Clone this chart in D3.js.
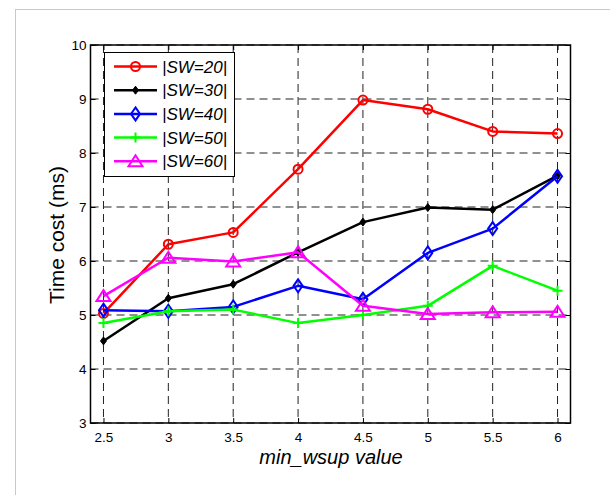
<!DOCTYPE html>
<html>
<head>
<meta charset="utf-8">
<script src="https://cdn.jsdelivr.net/npm/d3@7"></script>
<style>
  body { margin: 0; background: #fff; }
  svg { display: block; font-family: "Liberation Sans", Arial, sans-serif; }
</style>
</head>
<body>
<div id="chart"></div>
<script>
// 数据
let xValues = [2.5, 3, 3.5, 4, 4.5, 5, 5.5, 6];
let sw20 = [5.03, 6.31, 6.53, 7.70, 8.98, 8.81, 8.40, 8.36];
let sw30 = [4.52, 5.31, 5.57, 6.16, 6.72, 6.99, 6.95, 7.58];
let sw40 = [5.09, 5.07, 5.15, 5.54, 5.29, 6.15, 6.60, 7.57];
let sw50 = [4.85, 5.07, 5.10, 4.85, 5.00, 5.17, 5.91, 5.45];
let sw60 = [5.35, 6.06, 5.99, 6.16, 5.17, 5.02, 5.05, 5.06];
let yTicks = [3, 4, 5, 6, 7, 8, 9, 10];
let xTicks = [2.5, 3, 3.5, 4, 4.5, 5, 5.5, 6];

let series = [
    { name: "|SW=20|", values: sw20, color: "#ff0000", marker: "circle" },
    { name: "|SW=30|", values: sw30, color: "#000000", marker: "dot" },
    { name: "|SW=40|", values: sw40, color: "#0000ff", marker: "diamond" },
    { name: "|SW=50|", values: sw50, color: "#00ff00", marker: "plus" },
    { name: "|SW=60|", values: sw60, color: "#ff00ff", marker: "triangle" }
];

let width = 610, height = 495;
let plot = { left: 90.5, right: 570.5, top: 45, bottom: 423 };

let svg = d3.select("#chart").append("svg")
    .attr("width", width)
    .attr("height", height);

// 外框
svg.append("rect")
    .attr("x", 15.5).attr("y", 9.5)
    .attr("width", 620).attr("height", 520)
    .attr("fill", "#fff")
    .attr("stroke", "#c8c8c8");

let x = d3.scaleLinear().domain([2.4, 6.1]).range([plot.left, plot.right]);
let y = d3.scaleLinear().domain([3, 10]).range([plot.bottom, plot.top]);

// 网格
let grid = svg.append("g");
grid.selectAll(".vg").data(xTicks).enter().append("line")
    .attr("x1", d => x(d)).attr("x2", d => x(d))
    .attr("y1", plot.top).attr("y2", plot.bottom)
    .attr("stroke", "#222").attr("stroke-width", 1)
    .attr("stroke-dasharray", "8,5");
grid.selectAll(".hg").data(yTicks).enter().append("line")
    .attr("y1", d => y(d)).attr("y2", d => y(d))
    .attr("x1", plot.left).attr("x2", plot.right)
    .attr("stroke", "#222").attr("stroke-width", 1)
    .attr("stroke-dasharray", "8,5");

// 坐标轴
let tickLen = 5;
let fmt = d => String(d);
let xAxisB = d3.axisBottom(x).tickValues(xTicks).tickSizeInner(-tickLen).tickSizeOuter(0).tickPadding(9).tickFormat(fmt);
let xAxisT = d3.axisTop(x).tickValues(xTicks).tickSizeInner(-tickLen).tickSizeOuter(0).tickFormat("");
let yAxisL = d3.axisLeft(y).tickValues(yTicks).tickSizeInner(-tickLen).tickSizeOuter(0).tickPadding(4).tickFormat(fmt);
let yAxisR = d3.axisRight(y).tickValues(yTicks).tickSizeInner(-tickLen).tickSizeOuter(0).tickFormat("");

function styleAxis(g) {
    g.select(".domain").remove();
    g.selectAll("line").attr("stroke", "#000");
    g.selectAll("text").attr("fill", "#000").style("font-size", "13.5px");
}

svg.append("g").attr("transform", "translate(0," + plot.bottom + ")").call(xAxisB).call(styleAxis);
svg.append("g").attr("transform", "translate(0," + plot.top + ")").call(xAxisT).call(styleAxis);
svg.append("g").attr("transform", "translate(" + plot.left + ",0)").call(yAxisL).call(styleAxis);
svg.append("g").attr("transform", "translate(" + plot.right + ",0)").call(yAxisR).call(styleAxis);

svg.append("rect")
    .attr("x", plot.left).attr("y", plot.top)
    .attr("width", plot.right - plot.left).attr("height", plot.bottom - plot.top)
    .attr("fill", "none").attr("stroke", "#000").attr("stroke-width", 1.5);

// 轴标题
svg.append("text")
    .attr("x", 331)
    .attr("y", 464)
    .attr("text-anchor", "middle")
    .style("font-size", "20px")
    .style("font-style", "italic")
    .text("min_wsup value");

svg.append("text")
    .attr("transform", "translate(64,235) rotate(-90)")
    .attr("text-anchor", "middle")
    .style("font-size", "21px")
    .text("Time cost (ms)");

// 标记
function drawMarker(g, type, color) {
    if (type === "circle") {
        g.append("circle").attr("r", 4.5).attr("fill", "none").attr("stroke", color).attr("stroke-width", 2);
    } else if (type === "dot") {
        g.append("path").attr("d", "M0,-4L3,0L0,4L-3,0Z").attr("fill", color).attr("stroke", color).attr("stroke-width", 1);
    } else if (type === "diamond") {
        g.append("path").attr("d", "M0,-6.5L4.5,0L0,6.5L-4.5,0Z").attr("fill", "none").attr("stroke", color).attr("stroke-width", 2);
    } else if (type === "plus") {
        g.append("path").attr("d", "M-5,0H5M0,-5V5").attr("stroke", color).attr("stroke-width", 2);
    } else if (type === "triangle") {
        g.append("path").attr("d", "M0,-6L7,5L-7,5Z").attr("fill", "none").attr("stroke", color).attr("stroke-width", 2);
    }
}

let line = d3.line().x((d, i) => x(xValues[i])).y(d => y(d));

series.forEach(function(s) {
    svg.append("path")
        .datum(s.values)
        .attr("fill", "none")
        .attr("stroke", s.color)
        .attr("stroke-width", 2.5)
        .attr("stroke-linejoin", "round")
        .attr("d", line);
    s.values.forEach(function(v, i) {
        let g = svg.append("g").attr("transform", "translate(" + x(xValues[i]) + "," + y(v) + ")");
        drawMarker(g, s.marker, s.color);
    });
});

// 图例
let legendBox = { x: 104.5, y: 52.5, w: 130, h: 124 };
svg.append("rect")
    .attr("x", legendBox.x).attr("y", legendBox.y)
    .attr("width", legendBox.w).attr("height", legendBox.h)
    .attr("fill", "#fff").attr("stroke", "#000").attr("stroke-width", 1);

let legend = svg.selectAll(".legend")
    .data(series)
    .enter().append("g")
    .attr("class", "legend")
    .attr("transform", (d, i) => "translate(0," + (66.5 + i * 23.7) + ")");

legend.append("line")
    .attr("x1", 114).attr("x2", 157)
    .attr("stroke", d => d.color)
    .attr("stroke-width", 2.5);

legend.each(function(d) {
    let g = d3.select(this).append("g").attr("transform", "translate(135.5,0)");
    drawMarker(g, d.marker, d.color);
});

legend.append("text")
    .attr("x", 162)
    .attr("y", 6)
    .style("font-size", "17px")
    .style("font-style", "italic")
    .text(d => d.name);
</script>
</body>
</html>
